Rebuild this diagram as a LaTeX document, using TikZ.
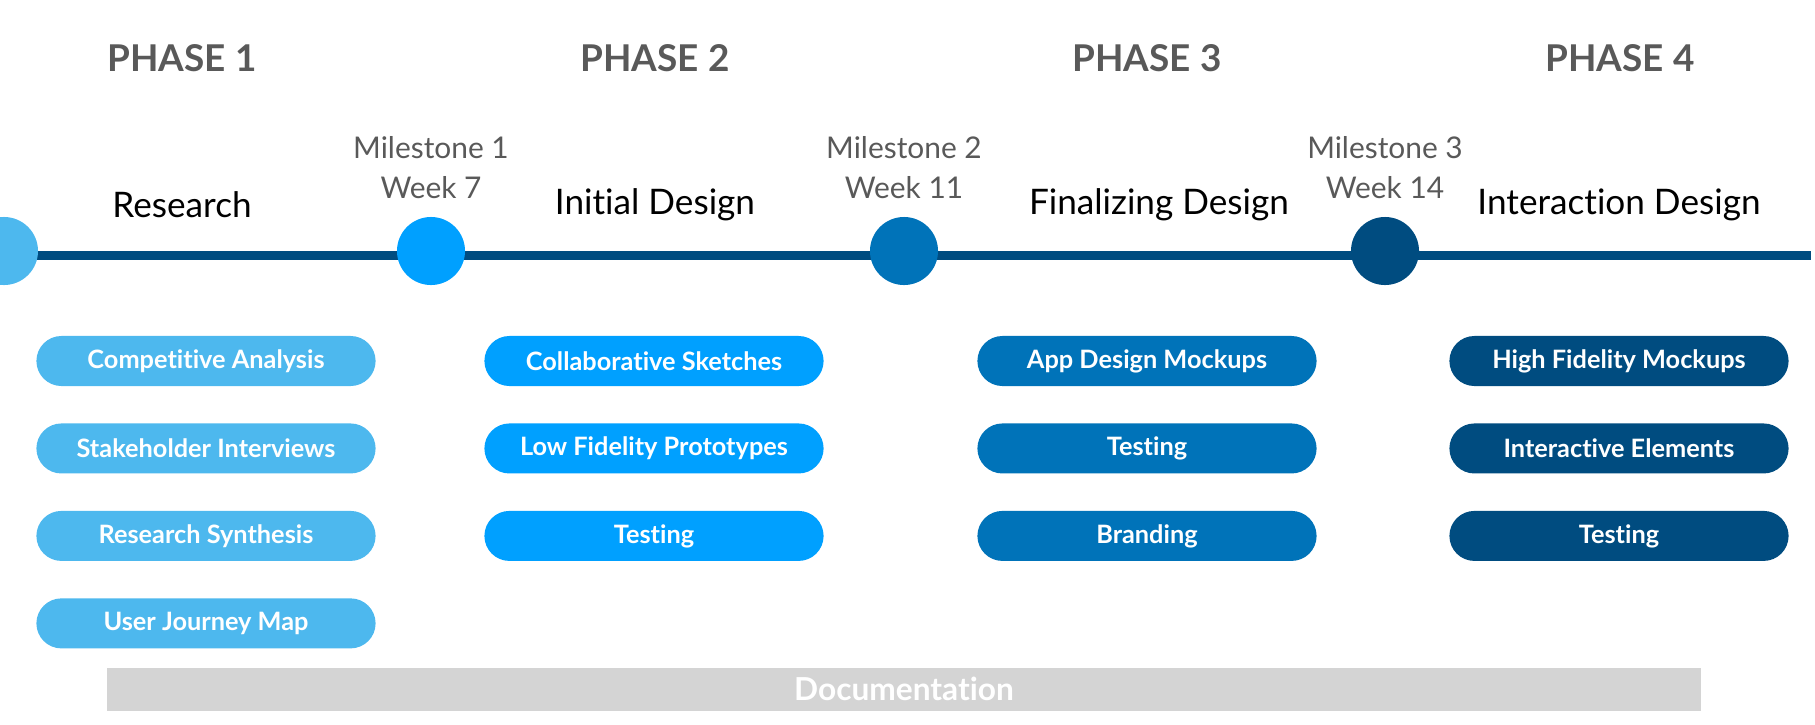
\documentclass[tikz,border=0pt]{standalone}
\usepackage{fontspec}
\setmainfont{Lato}[Ligatures=NoCommon]
\usepackage{tikz}
\usetikzlibrary{positioning}

\definecolor{skyblue}{HTML}{4DB8EE}
\definecolor{brightblue}{HTML}{00A0FF}
\definecolor{midblue}{HTML}{0073B9}
\definecolor{navyblue}{HTML}{004C80}
\definecolor{labelgray}{HTML}{595959}
\definecolor{docgray}{HTML}{D4D4D4}

\begin{document}
\begin{tikzpicture}[x=0.01cm, y=-0.01cm,
    phasehead/.style = {font=\bfseries\fontsize{10.5}{12}\selectfont, text=labelgray},
    phasetitle/.style = {font=\fontsize{10}{12}\selectfont, text=black},
    milelabel/.style = {font=\fontsize{8.5}{11.5}\selectfont, text=labelgray, align=center},
    dot/.style = {circle, minimum size=0.68cm, inner sep=0pt, fill=#1},
    task/.style = {rounded corners=0.25cm, minimum width=3.39cm, minimum height=0.5cm,
                   inner sep=0pt, fill=#1, text=white, font=\bfseries\fontsize{7.2}{8}\selectfont},
    timeline/.style = {line width=0.09cm, navyblue}]

    \useasboundingbox (0,0) rectangle (1815,724);

    \node[phasehead] (p1) at (182,58) {PHASE 1};
    \node[phasehead] (p2) at (655,58) {PHASE 2};
    \node[phasehead] (p3) at (1147,58) {PHASE 3};
    \node[phasehead] (p4) at (1620,58) {PHASE 4};

    \node[phasetitle] (t1) at (182,205) {Research};
    \node[phasetitle] (t2) at (655,205) {Initial Design};
    \node[phasetitle] (t3) at (1159,205) {Finalizing Design};
    \node[phasetitle] (t4) at (1619,205) {Interaction Design};

    \coordinate (lineL) at (0,255);
    \coordinate (lineR) at (1811,255);
    \draw[timeline] (lineL) -- (lineR);

    \node[dot=skyblue] (m0) at (4,251) {};
    \node[dot=brightblue] (m1) at (431,251) {};
    \node[dot=midblue] (m2) at (904,251) {};
    \node[dot=navyblue] (m3) at (1385,251) {};

    \node[milelabel, above=0.05cm of m1] (ml1) {Milestone 1\\Week 7};
    \node[milelabel, above=0.05cm of m2] (ml2) {Milestone 2\\Week 11};
    \node[milelabel, above=0.05cm of m3] (ml3) {Milestone 3\\Week 14};

    \node[task=skyblue] (a1) at (206,361) {Competitive Analysis};
    \node[task=skyblue, below=0.36cm of a1] (a2) {Stakeholder Interviews};
    \node[task=skyblue, below=0.36cm of a2] (a3) {Research Synthesis};
    \node[task=skyblue, below=0.36cm of a3] (a4) {User Journey Map};

    \node[task=brightblue] (b1) at (654,361) {Collaborative Sketches};
    \node[task=brightblue, below=0.36cm of b1] (b2) {Low Fidelity Prototypes};
    \node[task=brightblue, below=0.36cm of b2] (b3) {Testing};

    \node[task=midblue] (c1) at (1147,361) {App Design Mockups};
    \node[task=midblue, below=0.36cm of c1] (c2) {Testing};
    \node[task=midblue, below=0.36cm of c2] (c3) {Branding};

    \node[task=navyblue] (d1) at (1619,361) {High Fidelity Mockups};
    \node[task=navyblue, below=0.36cm of d1] (d2) {Interactive Elements};
    \node[task=navyblue, below=0.36cm of d2] (d3) {Testing};

    \node[fill=docgray, minimum width=15.93cm, minimum height=0.43cm, inner sep=0pt,
          text=white, font=\bfseries\fontsize{9}{10}\selectfont] (doc) at (904,689) {Documentation};
\end{tikzpicture}
\end{document}
